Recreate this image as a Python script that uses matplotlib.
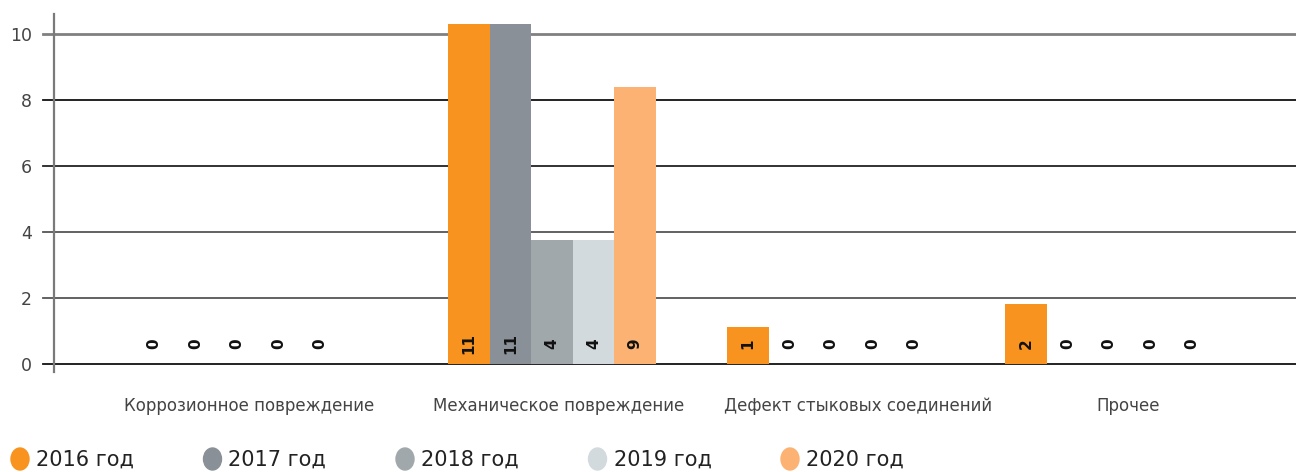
import matplotlib
matplotlib.use("Agg")
import matplotlib.pyplot as plt
import numpy as np
from matplotlib.patches import Ellipse

categories = ["Коррозионное повреждение", "Механическое повреждение",
              "Дефект стыковых соединений", "Прочее"]
years = ["2016 год", "2017 год", "2018 год", "2019 год", "2020 год"]
colors = ["#F7931E", "#8A9097", "#A1A8AC", "#D3DADE", "#FBB273"]

# counts shown in the labels, per year (rows) and category (columns)
labels = [
    [0, 11, 1, 2],
    [0, 11, 0, 0],
    [0, 4, 0, 0],
    [0, 4, 0, 0],
    [0, 9, 0, 0],
]
# bar heights as drawn in the picture (the 11s are clipped at the top)
heights = [
    [0, 10.3, 1.13, 1.83],
    [0, 10.3, 0, 0],
    [0, 3.75, 0, 0],
    [0, 3.75, 0, 0],
    [0, 8.38, 0, 0],
]
yticks = [0, 2, 4, 6, 8, 10]
grid_colors = ["#111111", "#555555", "#555555", "#222222", "#111111", "#808080"]

W, H = 1296, 472
# layout in pixels: group centres and category label centres
group_px = np.array([237, 552, 831, 1109])
label_px = np.array([249, 559, 858, 1128])
bar_px = 41.5

fig = plt.figure(figsize=(W / 100, H / 100), dpi=100)
ax = fig.add_axes([54 / W, 1 - 372.25 / H, 1 - 54 / W, (372.25 - 14.2) / H])
ax.set_xlim(54, 1296)
ax.set_ylim(-0.25, 10.6)

for yv, gc in zip(yticks, grid_colors):
    lw = 2.0 if yv == 10 else 1.3
    ax.plot([-0.0085, 1], [yv, yv], transform=ax.get_yaxis_transform(),
            color=gc, lw=lw, clip_on=False, zorder=1)

for i in range(len(years)):
    xs = group_px + (i - 2) * bar_px
    ax.bar(xs, heights[i], width=bar_px, color=colors[i], zorder=2)
    for xi, lab in zip(xs, labels[i]):
        ax.text(xi, 0.62, str(lab), rotation=90, ha="center", va="center",
                fontsize=11, fontweight="bold", color="#111111", zorder=3)

ax.set_yticks(yticks)
ax.set_yticklabels([str(v) for v in yticks], fontsize=12.5, color="#444444")
ax.tick_params(axis="y", length=0, pad=16)
ax.set_xticks(label_px)
ax.set_xticklabels(categories, fontsize=12, color="#444444")
ax.tick_params(axis="x", length=0, pad=18)

for s in ["top", "right", "bottom"]:
    ax.spines[s].set_visible(False)
ax.spines["left"].set_color("#7a7a7a")
ax.spines["left"].set_linewidth(1.6)
ax.spines["left"].set_zorder(4)

# legend along the bottom
for i, (yr, c) in enumerate(zip(years, colors)):
    cx = 20 + 192.5 * i
    fig.patches.append(Ellipse((cx / W, 1 - 459 / H), 18 / W, 22 / H,
                               transform=fig.transFigure, color=c))
    fig.text((cx + 16) / W, 1 - 460 / H, yr, ha="left", va="center",
             fontsize=15, color="#222222")

fig.savefig("out.png", dpi=100)
